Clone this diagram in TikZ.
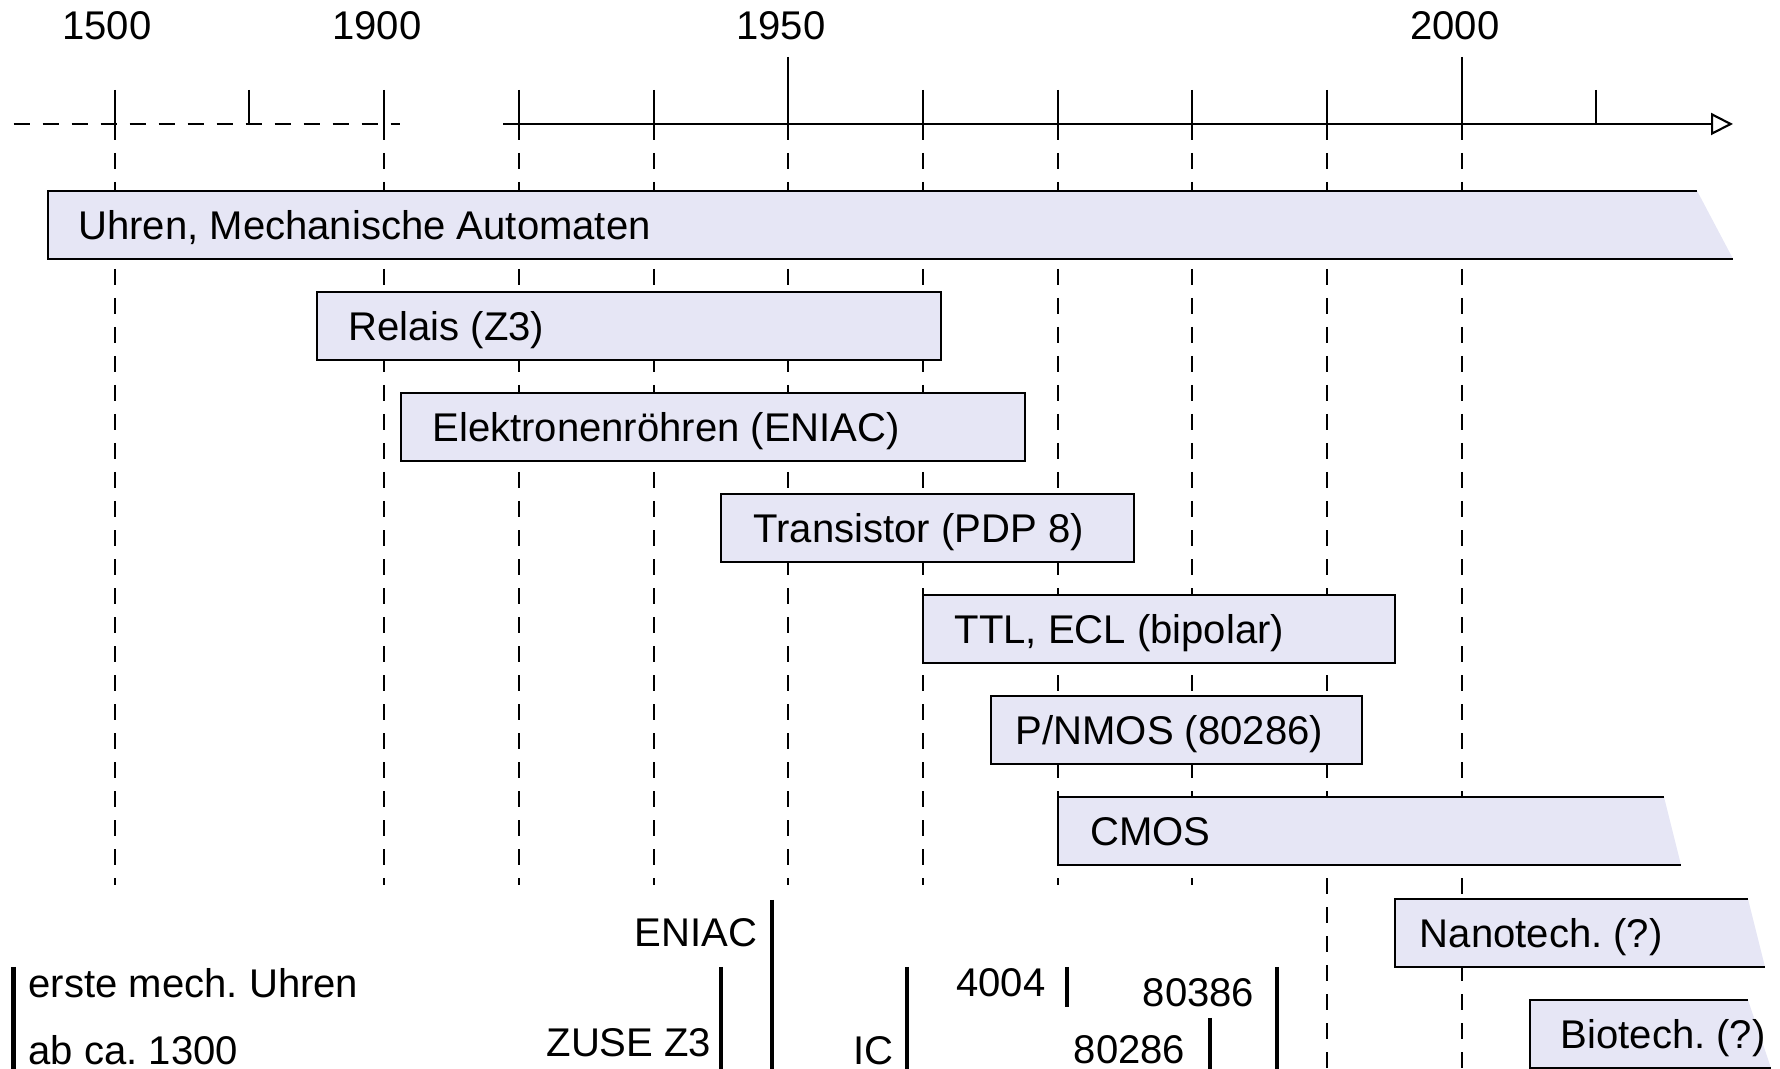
\documentclass[tikz,border=0pt]{standalone}
\usepackage{fontspec}
\setmainfont{Liberation Sans}
\usetikzlibrary{arrows.meta}
\definecolor{boxfill}{RGB}{230,230,245}
\frenchspacing

\begin{document}
\begin{tikzpicture}[x=1cm, y=-1cm, font=\fontsize{11.4}{13.5}\selectfont]
    \tikzset{grid lines/.style={line width=0.6pt, dash pattern=on 0.16cm off 0.13cm},
             tick lines/.style={line width=0.6pt},
             tech box/.style={fill=boxfill, line width=0.6pt},
             marker lines/.style={line width=1.3pt},
             lbl/.style={inner sep=0pt}}
    \useasboundingbox (0,0) rectangle (17.8,10.69);
    % time axis
    \coordinate (dash start) at (0.136,1.24);
    \coordinate (dash end) at (4.00,1.24);
    \coordinate (axis start) at (5.03,1.24);
    \coordinate (axis end) at (17.33,1.24);
    \draw [grid lines] (dash start) -- (dash end);
    \draw [tick lines, -{Triangle[open, length=0.22cm, width=0.22cm]}] (axis start) -- (axis end);
    \draw [tick lines] (7.882,0.568) -- (7.882,1.24)
        (14.617,0.568) -- (14.617,1.24);
    \draw [tick lines] (1.147,0.90) -- (1.147,1.24)
        (2.494,0.90) -- (2.494,1.24)
        (3.841,0.90) -- (3.841,1.24)
        (5.188,0.90) -- (5.188,1.24)
        (6.539,0.90) -- (6.539,1.24)
        (9.229,0.90) -- (9.229,1.24)
        (10.576,0.90) -- (10.576,1.24)
        (11.923,0.90) -- (11.923,1.24)
        (13.270,0.90) -- (13.270,1.24)
        (15.964,0.90) -- (15.964,1.24);
    \node [lbl, anchor=base] (y1500) at (1.07,0.40) {1500};
    \node [lbl, anchor=base] (y1900) at (3.77,0.40) {1900};
    \node [lbl, anchor=base] (y1950) at (7.81,0.40) {1950};
    \node [lbl, anchor=base] (y2000) at (14.55,0.40) {2000};
    % grid
    \draw [grid lines] (1.147,1.24) -- (1.147,8.855)
        (3.841,1.24) -- (3.841,8.855)
        (5.188,1.24) -- (5.188,8.855)
        (6.539,1.24) -- (6.539,8.855)
        (7.882,1.24) -- (7.882,8.855)
        (9.229,1.24) -- (9.229,8.855)
        (10.576,1.24) -- (10.576,8.855)
        (11.923,1.24) -- (11.923,8.855)
        (13.270,1.24) -- (13.270,10.69)
        (14.617,1.24) -- (14.617,10.69);
    % technologies
    \fill [boxfill] (0.477,1.907) -- (16.97,1.907) -- (17.33,2.588) -- (0.477,2.588) -- cycle;
    \draw [tech box, fill=none] (16.97,1.907) -- (0.477,1.907) -- (0.477,2.588) -- (17.33,2.588);
    \node [lbl, anchor=base west] (uhren) at (0.777,2.397) {Uhren, Mechanische Automaten};
    \draw [tech box, draw] (3.167,2.917) rectangle (9.411,3.597);
    \node [lbl, anchor=base west] (relais) at (3.477,3.407) {Relais (Z3)};
    \draw [tech box, draw] (4.007,3.928) rectangle (10.251,4.608);
    \node [lbl, anchor=base west] (roehren) at (4.317,4.418) {Elektronenröhren (ENIAC)};
    \draw [tech box, draw] (7.209,4.938) rectangle (11.341,5.618);
    \node [lbl, anchor=base west] (transistor) at (7.529,5.428) {Transistor (PDP 8)};
    \draw [tech box, draw] (9.229,5.948) rectangle (13.952,6.628);
    \node [lbl, anchor=base west] (ttl) at (9.539,6.438) {TTL, ECL (bipolar)};
    \draw [tech box, draw] (9.91,6.959) rectangle (13.622,7.639);
    \node [lbl, anchor=base west] (nmos) at (10.15,7.449) {P/NMOS (80286)};
    \fill [boxfill] (10.576,7.969) -- (16.64,7.969) -- (16.81,8.649) -- (10.576,8.649) -- cycle;
    \draw [tech box, fill=none] (16.64,7.969) -- (10.576,7.969) -- (10.576,8.649) -- (16.81,8.649);
    \node [lbl, anchor=base west] (cmos) at (10.896,8.459) {CMOS};
    \fill [boxfill] (13.952,8.99) -- (17.48,8.99) -- (17.65,9.67) -- (13.952,9.67) -- cycle;
    \draw [tech box, fill=none] (17.48,8.99) -- (13.952,8.99) -- (13.952,9.67) -- (17.65,9.67);
    \node [lbl, anchor=base west] (nano) at (14.192,9.48) {Nanotech. (?)};
    \fill [boxfill] (15.30,10.00) -- (17.48,10.00) -- (17.71,10.68) -- (15.30,10.68) -- cycle;
    \draw [tech box, fill=none] (17.48,10.00) -- (15.30,10.00) -- (15.30,10.68) -- (17.71,10.68);
    \node [lbl, anchor=base west] (bio) at (15.60,10.49) {Biotech. (?)};
    % milestones
    \draw [marker lines] (0.136,9.67) -- (0.136,10.69);
    \node [lbl, anchor=base west] (uhrenA) at (0.28,9.98) {erste mech. Uhren};
    \node [lbl, anchor=base west] (uhrenB) at (0.28,10.65) {ab ca. 1300};
    \draw [marker lines] (7.72,9.00) -- (7.72,10.69);
    \node [lbl, anchor=base east] (eniac) at (7.58,9.47) {ENIAC};
    \draw [marker lines] (7.21,9.67) -- (7.21,10.69);
    \node [lbl, anchor=base east] (zuse) at (7.12,10.57) {ZUSE Z3};
    \draw [marker lines] (9.07,9.67) -- (9.07,10.69);
    \node [lbl, anchor=base east] (ic) at (8.94,10.65) {IC};
    \draw [marker lines] (10.67,9.67) -- (10.67,10.07);
    \node [lbl, anchor=base east] (i4004) at (10.46,9.97) {4004};
    \draw [marker lines] (12.77,9.67) -- (12.77,10.69);
    \node [lbl, anchor=base east] (i80386) at (12.55,10.07) {80386};
    \draw [marker lines] (12.10,10.18) -- (12.10,10.69);
    \node [lbl, anchor=base east] (i80286) at (11.86,10.64) {80286};
\end{tikzpicture}
\end{document}
